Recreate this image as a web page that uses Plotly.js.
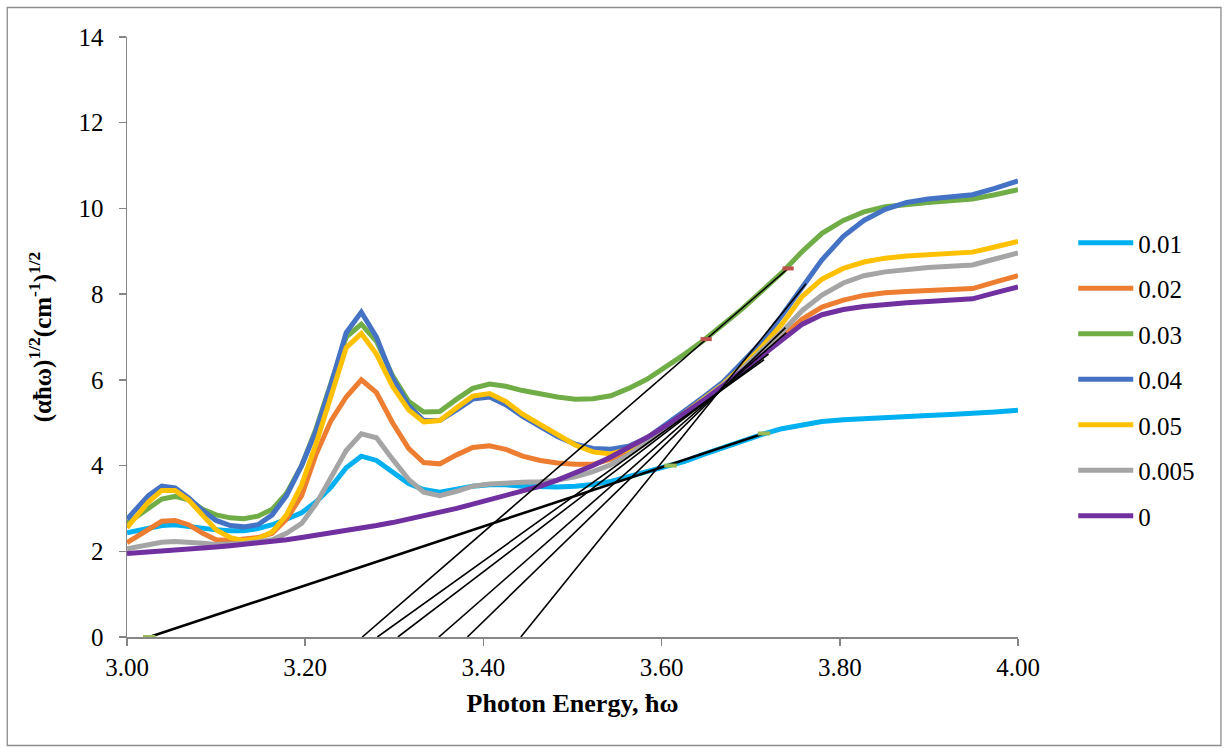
<!DOCTYPE html>
<html>
<head>
<meta charset="utf-8">
<script src="https://cdn.plot.ly/plotly-3.0.1.min.js"></script>
<style>
  html, body { margin: 0; padding: 0; background: #fff; }
  #chart { width: 1224px; height: 749px; }
</style>
</head>
<body>
<div id="chart"></div>
<script>
// Photon energy (eV)
const energy = [3.000, 3.024, 3.039, 3.054, 3.069, 3.085, 3.100, 3.116, 3.131, 3.147, 3.163, 3.179, 3.196, 3.212, 3.229, 3.246, 3.263, 3.280, 3.298, 3.316, 3.333, 3.351, 3.370, 3.388, 3.407, 3.425, 3.444, 3.464, 3.483, 3.503, 3.523, 3.543, 3.563, 3.584, 3.605, 3.626, 3.647, 3.669, 3.690, 3.713, 3.735, 3.758, 3.780, 3.804, 3.827, 3.851, 3.875, 3.899, 3.924, 3.949, 3.974, 4.000];

// (alpha h-bar omega)^1/2 for each concentration
const s001 = [2.43, 2.55, 2.60, 2.62, 2.58, 2.52, 2.50, 2.48, 2.48, 2.53, 2.62, 2.75, 2.90, 3.15, 3.50, 3.95, 4.22, 4.12, 3.85, 3.58, 3.44, 3.38, 3.45, 3.52, 3.55, 3.55, 3.52, 3.50, 3.50, 3.52, 3.56, 3.63, 3.74, 3.86, 3.97, 4.10, 4.26, 4.42, 4.58, 4.73, 4.86, 4.96, 5.03, 5.07, 5.10, 5.13, 5.15, 5.17, 5.19, 5.21, 5.25, 5.29];
const s002 = [2.20, 2.52, 2.70, 2.72, 2.62, 2.42, 2.27, 2.25, 2.28, 2.32, 2.42, 2.75, 3.30, 4.25, 5.05, 5.60, 6.00, 5.70, 5.00, 4.40, 4.07, 4.04, 4.25, 4.42, 4.46, 4.38, 4.22, 4.12, 4.06, 4.03, 4.03, 4.15, 4.35, 4.60, 4.92, 5.22, 5.52, 5.85, 6.20, 6.60, 7.00, 7.42, 7.70, 7.86, 7.97, 8.03, 8.06, 8.09, 8.11, 8.13, 8.28, 8.43];
const s003 = [2.65, 3.00, 3.22, 3.28, 3.20, 2.98, 2.85, 2.78, 2.76, 2.82, 2.98, 3.35, 4.00, 4.85, 5.95, 7.00, 7.30, 6.90, 6.10, 5.50, 5.25, 5.26, 5.55, 5.80, 5.90, 5.85, 5.75, 5.67, 5.60, 5.55, 5.56, 5.63, 5.80, 6.02, 6.30, 6.60, 6.92, 7.28, 7.65, 8.08, 8.50, 9.00, 9.42, 9.72, 9.92, 10.04, 10.10, 10.14, 10.18, 10.22, 10.32, 10.44];
const s004 = [2.75, 3.30, 3.52, 3.48, 3.25, 2.95, 2.72, 2.60, 2.57, 2.62, 2.85, 3.30, 4.00, 4.80, 5.90, 7.10, 7.58, 7.00, 6.05, 5.40, 5.05, 5.05, 5.30, 5.55, 5.60, 5.42, 5.15, 4.90, 4.68, 4.50, 4.40, 4.38, 4.45, 4.65, 4.95, 5.28, 5.60, 5.95, 6.40, 6.90, 7.50, 8.15, 8.80, 9.35, 9.72, 9.98, 10.14, 10.22, 10.27, 10.32, 10.47, 10.64];
const s005 = [2.55, 3.15, 3.42, 3.42, 3.20, 2.85, 2.50, 2.32, 2.25, 2.30, 2.45, 2.85, 3.55, 4.50, 5.60, 6.75, 7.08, 6.60, 5.85, 5.30, 5.02, 5.05, 5.35, 5.62, 5.68, 5.50, 5.20, 4.95, 4.72, 4.48, 4.32, 4.27, 4.38, 4.58, 4.90, 5.22, 5.55, 5.90, 6.30, 6.78, 7.30, 7.95, 8.35, 8.60, 8.75, 8.84, 8.89, 8.92, 8.95, 8.98, 9.10, 9.23];
const s0005 = [2.06, 2.16, 2.21, 2.23, 2.22, 2.19, 2.16, 2.16, 2.18, 2.22, 2.27, 2.42, 2.65, 3.10, 3.70, 4.35, 4.74, 4.65, 4.15, 3.68, 3.38, 3.30, 3.40, 3.52, 3.57, 3.60, 3.61, 3.62, 3.66, 3.74, 3.86, 4.02, 4.25, 4.55, 4.88, 5.20, 5.52, 5.88, 6.25, 6.68, 7.12, 7.62, 7.98, 8.26, 8.43, 8.52, 8.58, 8.62, 8.65, 8.68, 8.82, 8.96];
const s0 = [1.95, 1.98, 2.00, 2.02, 2.04, 2.07, 2.10, 2.13, 2.16, 2.19, 2.23, 2.27, 2.32, 2.37, 2.42, 2.48, 2.54, 2.60, 2.67, 2.75, 2.83, 2.92, 3.00, 3.10, 3.20, 3.30, 3.40, 3.52, 3.66, 3.82, 4.00, 4.20, 4.42, 4.66, 4.93, 5.22, 5.52, 5.86, 6.20, 6.60, 6.96, 7.30, 7.52, 7.64, 7.71, 7.76, 7.80, 7.83, 7.86, 7.89, 8.03, 8.17];

const seriesNames = ['0.01', '0.02', '0.03', '0.04', '0.05', '0.005', '0'];
const seriesValues = [s001, s002, s003, s004, s005, s0005, s0];
const seriesColors = ['#00B0F0', '#ED7D31', '#70AD47', '#4472C4', '#FFC000', '#A5A5A5', '#7030A0'];

// Tangent (Tauc extrapolation) lines: start and end x / y
const tangentX = [
  [3.025, 3.715],  // 0.01
  [3.264, 3.742],  // 0.03
  [3.442, 3.762],  // 0.04
  [3.382, 3.739],  // 0.05
  [3.350, 3.740],  // 0.005
  [3.304, 3.720],  // 0.02
  [3.281, 3.715]   // 0
];
const tangentY = [
  [0, 4.75],
  [0, 8.60],
  [0, 8.24],
  [0, 7.22],
  [0, 7.10],
  [0, 6.60],
  [0, 6.47]
];
const tangentWidth = [2.6, 1.6, 1.6, 1.6, 1.6, 1.6, 1.6];

// Fit-point markers on tangents
const fitGreenX = [3.025, 3.610, 3.715];
const fitGreenY = [0, 4.00, 4.75];
const fitRedX = [3.650, 3.742];
const fitRedY = [6.95, 8.60];

const serif = 'Liberation Serif, Times New Roman, serif';

const traces = [];
seriesNames.forEach((n, i) => {
  traces.push({
    x: energy, y: seriesValues[i], name: n, type: 'scatter', mode: 'lines',
    line: { color: seriesColors[i], width: 5 },
    legendgroup: 'g' + i
  });
});
tangentX.forEach((tx, i) => {
  traces.push({
    x: tx, y: tangentY[i], type: 'scatter', mode: 'lines', showlegend: false,
    line: { color: '#000000', width: tangentWidth[i] }, hoverinfo: 'skip'
  });
});
traces.push({
  x: fitGreenX, y: fitGreenY, type: 'scatter', mode: 'markers', showlegend: false,
  marker: { symbol: 'line-ew', size: 9, line: { color: '#9BBB59', width: 4 } }, cliponaxis: false
});
traces.push({
  x: fitRedX, y: fitRedY, type: 'scatter', mode: 'markers', showlegend: false,
  marker: { symbol: 'line-ew', size: 8, line: { color: '#C0504D', width: 4 } }
});

const layout = {
  width: 1224, height: 749,
  margin: { l: 127, r: 206, t: 37, b: 112 },
  paper_bgcolor: '#ffffff', plot_bgcolor: '#ffffff',
  font: { family: serif, size: 25, color: '#000000' },
  showlegend: true,
  legend: {
    x: 1.062, y: 0.695, xanchor: 'left', yanchor: 'top',
    font: { family: serif, size: 25, color: '#000' },
    itemwidth: 55, tracegroupgap: 10, bgcolor: 'rgba(0,0,0,0)'
  },
  xaxis: {
    range: [3, 4], tickvals: [3.0, 3.2, 3.4, 3.6, 3.8, 4.0], tickformat: '.2f',
    showline: true, linecolor: '#868686', linewidth: 1.5,
    ticks: 'outside', ticklen: 7, tickcolor: '#868686', tickwidth: 1.5,
    showgrid: false, zeroline: false,
    tickfont: { family: serif, size: 25, color: '#000' },
    title: { text: '<b>Photon Energy, ħω</b>', font: { family: serif, size: 26, color: '#000' }, standoff: 14 }
  },
  yaxis: {
    range: [0, 14], tickvals: [0, 2, 4, 6, 8, 10, 12, 14],
    showline: true, linecolor: '#868686', linewidth: 1.5,
    ticks: 'outside', ticklen: 7, tickcolor: '#868686', tickwidth: 1.5,
    showgrid: false, zeroline: false, ticklabelstandoff: 10,
    tickfont: { family: serif, size: 25, color: '#000' },
    title: { text: '<b>(αħω)<sup>1/2</sup>(cm<sup>-1</sup>)<sup>1/2</sup></b>', font: { family: serif, size: 25, color: '#000' }, standoff: 20 }
  },
  shapes: [{
    type: 'rect', xref: 'paper', yref: 'paper',
    x0: -0.1344, x1: 1.2278, y0: -0.1808, y1: 1.0492,
    line: { color: '#8C8C8C', width: 1.3 }, fillcolor: 'rgba(0,0,0,0)', layer: 'below'
  }]
};

Plotly.newPlot('chart', traces, layout, { displayModeBar: false, staticPlot: true });
</script>
</body>
</html>
